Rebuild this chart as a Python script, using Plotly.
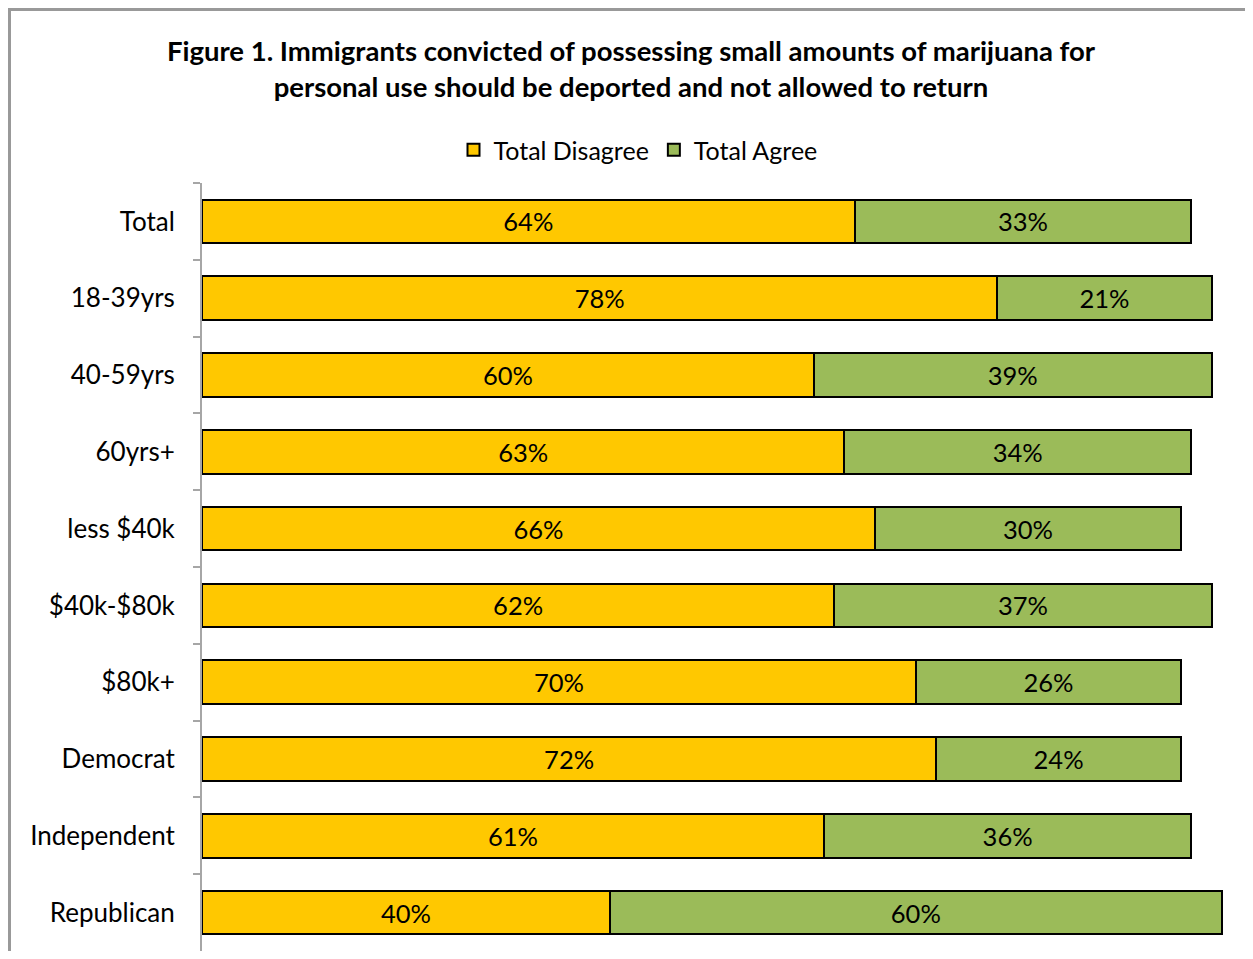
import plotly.graph_objects as go

categories = ["Total", "18-39yrs", "40-59yrs", "60yrs+", "less $40k", "$40k-$80k",
              "$80k+", "Democrat", "Independent", "Republican"]
disagree = [64, 78, 60, 63, 66, 62, 70, 72, 61, 40]
agree = [33, 21, 39, 34, 30, 37, 26, 24, 36, 60]

OFF = 8  # page body margin
W, H = 1253 - 2 * OFF, 959 - 2 * OFF
PW, PH = 1032, 768
ML, MT = 202 - OFF, 183 - OFF
MR, MB = W - ML - PW, H - MT - PH
FONT = "Lato"

def px(x):
    return (x - OFF - ML) / PW

def py(y):
    return 1 - (y - OFF - MT) / PH

fig = go.Figure()
fig.add_trace(go.Bar(
    y=categories, x=disagree, name="Total Disagree", orientation="h",
    marker=dict(color="#FFC800", line=dict(color="black", width=2)),
    text=[f"{v}%" for v in disagree], textposition="inside",
    insidetextanchor="middle", textangle=0,
    textfont=dict(size=25.5, color="black", family=FONT),
))
fig.add_trace(go.Bar(
    y=categories, x=agree, name="Total Agree", orientation="h",
    marker=dict(color="#9BBB59", line=dict(color="black", width=2)),
    text=[f"{v}%" for v in agree], textposition="inside",
    insidetextanchor="middle", textangle=0,
    textfont=dict(size=25.5, color="black", family=FONT),
))

border = dict(color="#999999", width=3)
fig.update_layout(
    width=W, height=H, barmode="stack", bargap=0.43,
    margin=dict(l=ML, r=MR, t=MT, b=MB, autoexpand=False),
    paper_bgcolor="white", plot_bgcolor="white",
    font=dict(family=FONT, size=25, color="black"),
    title=dict(
        text="<b>Figure 1. Immigrants convicted of possessing small amounts of marijuana for<br>personal use should be deported and not allowed to return</b>",
        x=(631 - OFF) / W, xanchor="center", y=1 - 53 / H, yanchor="top",
        font=dict(family=FONT, size=27.5, color="black"),
    ),
    legend=dict(
        orientation="h", x=px(638), xanchor="center", y=py(150), yanchor="middle",
        font=dict(family=FONT, size=25), traceorder="normal",
        bgcolor="rgba(0,0,0,0)",
    ),
    uniformtext=dict(mode=False),
    shapes=[
        dict(type="line", xref="paper", yref="paper",
             x0=px(8), x1=px(1253), y0=py(9.5), y1=py(9.5), line=border, layer="above"),
        dict(type="line", xref="paper", yref="paper",
             x0=px(9.5), x1=px(9.5), y0=py(8), y1=py(959), line=border, layer="above"),
    ],
)
fig.update_xaxes(range=[0, 101.2], visible=False, showgrid=False, zeroline=False)
fig.update_yaxes(
    autorange="reversed", showline=True, linecolor="#A6A6A6", linewidth=2,
    ticks="outside", tickson="boundaries", ticklen=7, tickcolor="#A6A6A6",
    tickwidth=2, ticklabelstandoff=20, showgrid=False,
    tickfont=dict(family=FONT, size=26, color="black"),
)
fig.write_html("out.html")
